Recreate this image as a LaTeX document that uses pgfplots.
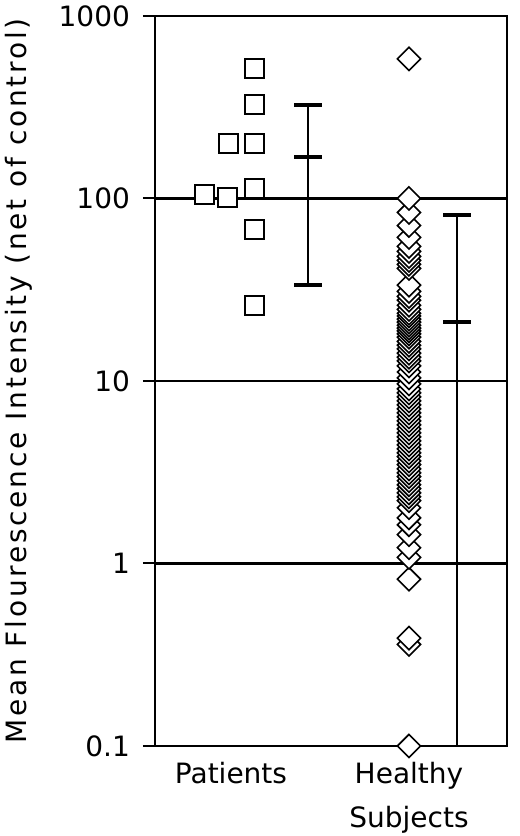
\documentclass[border=0pt]{standalone}
\usepackage{fontspec}
\setmainfont{DejaVu Sans}
\usepackage{pgfplots}
\pgfplotsset{compat=1.18}
\begin{document}
\begin{tikzpicture}
\begin{axis}[
  scale only axis,
  width=176pt, height=365pt,
  xmin=0, xmax=352,
  ymode=log, ymin=0.1, ymax=1000,
  clip=false,
  axis line style={line width=1pt},
  ytick={0.1,1,10,100,1000},
  yticklabels={0.1,1,10,100,1000},
  yminorticks=false,
  ymajorgrids,
  major grid style={black, line width=1.1pt},
  ytick pos=left,
  tick align=outside,
  major tick length=6pt,
  ytick style={black, line width=1pt},
  yticklabel style={font=\fontsize{14}{17}\selectfont, xshift=-3pt},
  xtick={76,254},
  xticklabels={Patients,{Healthy\\[5pt]Subjects}},
  xtick style={draw=none},
  xticklabel style={font=\fontsize{14}{17}\selectfont, align=center, anchor=north, yshift=1.5pt},
  ylabel={\addfontfeature{LetterSpace=10}Mean Flourescence Intensity (net of control)},
  ylabel style={font=\fontsize{14}{17}\selectfont, at={(axis description cs:-0.366,0.5)}, anchor=base},
]
% patients
\addplot[only marks, mark=square*, mark size=4.75pt, mark options={fill=white, draw=black, line width=1pt}]
coordinates {(50,105)(73,101)(100,113)(74,200)(100,200)(100,327)(100,516)(100,68)(100,26)};
\addplot[black, line width=0.8pt] coordinates {(153,33.5)(153,327)};
\addplot[only marks, mark=-, mark size=7pt, mark options={line width=2pt}]
coordinates {(153,33.5)(153,168)(153,327)};
% healthy subjects (low to high)
\addplot[only marks, mark=square*, mark size=4.1pt, mark options={rotate=45, fill=white, draw=black, line width=0.8pt}]
coordinates {
(254,0.1)(254,0.36)(254,0.39)(254,0.82)(254,1.08)(254,1.22)(254,1.44)(254,1.63)(254,1.78)(254,2.02)
(254,2.21)(254,2.32)(254,2.44)(254,2.57)(254,2.70)(254,2.84)(254,2.99)(254,3.14)(254,3.30)(254,3.48)
(254,3.65)(254,3.85)(254,4.04)(254,4.25)(254,4.47)(254,4.70)(254,4.94)(254,5.20)(254,5.47)(254,5.75)
(254,6.04)(254,6.36)(254,6.68)(254,7.03)(254,7.39)(254,7.78)(254,8.18)(254,8.60)(254,9.04)(254,9.64)
(254,10.4)(254,11.2)(254,12.1)(254,12.9)(254,13.5)(254,14.2)(254,15.0)(254,15.7)(254,16.5)(254,17.4)
(254,18.1)(254,18.8)(254,19.5)(254,20.2)(254,21.0)(254,21.8)(254,22.7)(254,23.5)(254,24.7)(254,26.0)
(254,27.7)(254,29.1)(254,31.0)(254,33.5)(254,41.4)(254,43.6)(254,45.8)(254,48.2)(254,51.3)(254,54.7)
(254,61.2)(254,71.1)(254,83.8)(254,100)(254,582)};
\addplot[black, line width=0.8pt] coordinates {(302,0.1)(302,80.7)};
\addplot[only marks, mark=-, mark size=7pt, mark options={line width=2pt}]
coordinates {(302,21)(302,80.7)};
\coordinate (bbl) at (axis description cs:-0.4403,-0.1233);
\coordinate (btr) at (axis description cs:1.0369,1.0219);
\end{axis}
\pgfresetboundingbox
\useasboundingbox (bbl) rectangle (btr);
\end{tikzpicture}
\end{document}
